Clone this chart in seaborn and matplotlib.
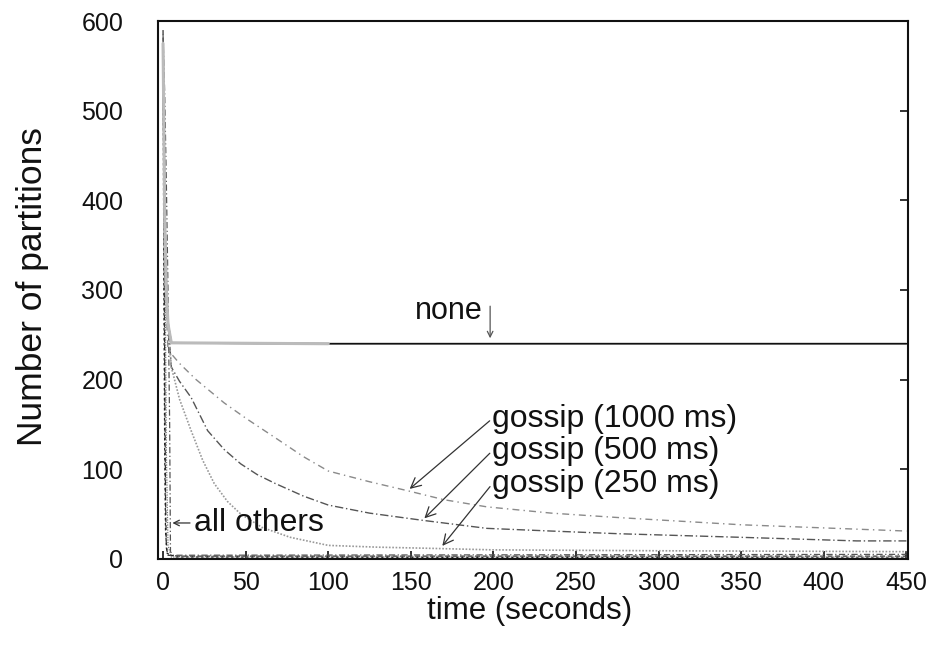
import matplotlib
matplotlib.use("Agg")
import matplotlib.pyplot as plt
import seaborn as sns
import pandas as pd

# ---- data ----
none_x = [0, 0.5, 1, 2, 3, 5, 100, 450]
none_y = [575, 480, 380, 300, 262, 241, 240, 240]

g1000_x = [0, 1, 3, 10, 20, 37, 50, 68, 85, 100, 125, 148, 170, 196, 235, 276, 350, 450]
g1000_y = [560, 320, 233, 218, 200, 174, 157, 135, 114, 98, 86, 76, 66, 58, 51, 46, 38, 31]

g500_x = [0, 1, 5, 10, 17, 27, 37, 47, 57, 68, 85, 100, 125, 157, 196, 235, 276, 350, 420, 450]
g500_y = [560, 320, 214, 198, 180, 143, 122, 106, 94, 84, 70, 60, 51, 43, 34, 31, 28, 24, 20, 20]

g250_x = [0, 1, 5, 10, 17, 24, 31, 39, 47, 60, 77, 100, 130, 155, 200, 300, 450]
g250_y = [560, 320, 214, 178, 143, 110, 84, 64, 50, 35, 24, 15, 13, 12, 10, 9, 8]

other1_x = [0, 0.5, 1, 1.5, 2, 3, 10, 450]
other1_y = [590, 420, 220, 70, 12, 4, 3, 3]
other2_x = [0, 1, 2, 3, 4, 4.5, 6, 450]
other2_y = [585, 520, 420, 300, 150, 8, 4, 5]
other3_x = [0, 0.5, 1, 1.5, 2.5, 8, 450]
other3_y = [570, 300, 120, 30, 6, 2, 1]
other4_x = [0, 1, 2, 3, 5, 450]
other4_y = [560, 380, 120, 15, 2, 2]

x_ticks = [0, 50, 100, 150, 200, 250, 300, 350, 400, 450]
y_ticks = [0, 100, 200, 300, 400, 500, 600]

sns.set_style("white")
plt.rcParams["font.family"] = ["Liberation Sans", "DejaVu Sans"]

fig = plt.figure(figsize=(9.41, 6.59), dpi=100)
ax = fig.add_axes([0.168, 0.152, 0.797, 0.816])

def draw(xs, ys, color, ls, lw=0.9):
    df = pd.DataFrame({"t": xs, "v": ys})
    sns.lineplot(data=df, x="t", y="v", ax=ax, color=color, linestyle=ls,
                 linewidth=lw, estimator=None, sort=False)

# all others
draw(other1_x, other1_y, "#333333", (0, (4, 2)), 0.9)
draw(other2_x, other2_y, "#555555", (0, (5, 2, 1, 2)), 0.9)
draw(other3_x, other3_y, "#222222", (0, (2, 2)), 0.9)
draw(other4_x, other4_y, "#777777", (0, (1, 1)), 0.9)

# gossip
draw(g1000_x, g1000_y, "#8a8a8a", (0, (5, 3, 1, 3)), 1.0)
draw(g500_x, g500_y, "#555555", (0, (6, 2, 1, 2)), 1.0)
draw(g250_x, g250_y, "#999999", (0, (1, 1)), 1.2)

# none: black overall, gray for the first 100 s
draw(none_x, none_y, "#111111", "-", 1.3)
nd = pd.DataFrame({"t": none_x, "v": none_y})
nd = nd[nd["t"] <= 100]
sns.lineplot(data=nd, x="t", y="v", ax=ax, color="#bbbbbb", linewidth=2.2,
             estimator=None, sort=False)

ax.set_xlim(-3, 451)
ax.set_ylim(0, 600)
ax.set_xticks(x_ticks)
ax.set_yticks(y_ticks)
ax.tick_params(axis="both", direction="in", length=6, width=1.2,
               labelsize=18, colors="#111111")
ax.tick_params(axis="y", right=True, pad=25)
ax.tick_params(axis="x", bottom=True, pad=9)
for sp in ax.spines.values():
    sp.set_linewidth(1.5)
    sp.set_color("#111111")
    sp.set_visible(True)

ax.set_xlabel("time (seconds)", fontsize=22.5, color="#111111")
ax.set_ylabel("Number of partitions", fontsize=25.5, color="#111111")
ax.xaxis.set_label_coords(0.495, -0.07)
ax.yaxis.set_label_coords(-0.146, 0.506)

tfs = 23
# annotations
ax.text(173, 276, "none", fontsize=tfs - 1, ha="center", va="center", color="#111111")
ax.annotate("", xy=(198, 243), xytext=(198, 285),
            arrowprops=dict(arrowstyle="->", color="#555555", lw=0.9))

for label, yt, tip in [("gossip (1000 ms)", 156, (148, 76)),
                       ("gossip (500 ms)", 120, (157, 43)),
                       ("gossip (250 ms)", 83, (168, 12))]:
    ax.text(199, yt, label, fontsize=tfs, ha="left", va="center", color="#111111")
    ax.annotate("", xy=tip, xytext=(199, yt),
                arrowprops=dict(arrowstyle="->", color="#333333", lw=0.9,
                                mutation_scale=18))

ax.text(19, 40, "all others", fontsize=tfs, ha="left", va="center", color="#111111")
ax.annotate("", xy=(4, 40), xytext=(18, 40),
            arrowprops=dict(arrowstyle="->", color="#333333", lw=0.9))

fig.savefig("out.png", dpi=100)
